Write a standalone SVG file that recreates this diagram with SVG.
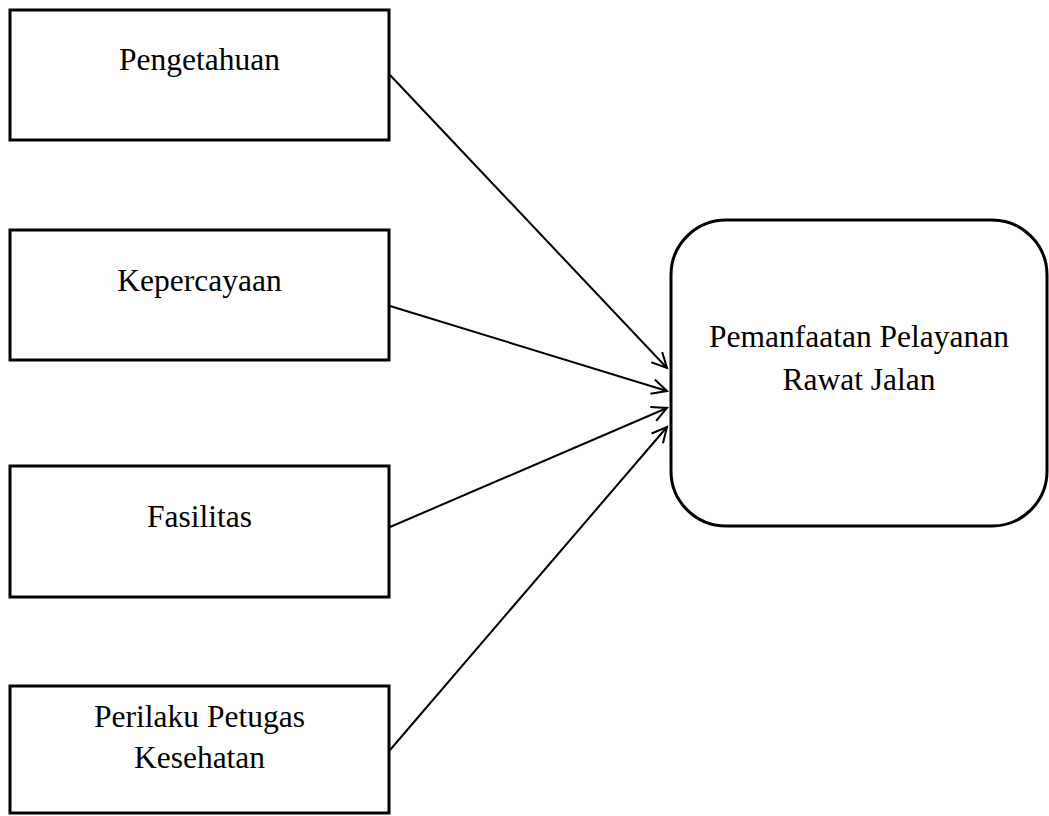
<svg xmlns="http://www.w3.org/2000/svg" width="1049" height="816" viewBox="0 0 1049 816">
<style>
.box{fill:#fff;stroke:#000;stroke-width:3}
.lbl{font-family:"Liberation Serif","Times New Roman",serif;font-size:31.5px;fill:#000;text-anchor:middle}
.conn{stroke:#000;stroke-width:2;fill:none;marker-end:url(#arr)}
</style>
<defs>
<marker id="arr" markerUnits="userSpaceOnUse" markerWidth="24" markerHeight="24" viewBox="-18 -12 24 24" refX="0" refY="0" orient="auto">
<path d="M -15 -7.5 L 0 0 L -15 7.5" fill="none" stroke="#000" stroke-width="2"/>
</marker>
</defs>
<rect width="1049" height="816" fill="#fff"/>
<g id="connectors">
<line class="conn" x1="390" y1="75" x2="667" y2="368"/>
<line class="conn" x1="390" y1="306" x2="667" y2="391"/>
<line class="conn" x1="390" y1="527" x2="667" y2="408"/>
<line class="conn" x1="390" y1="750" x2="667" y2="427"/>
</g>
<g id="pengetahuan">
<rect class="box" x="10" y="10" width="379" height="130"/>
<text class="lbl" x="199.5" y="70">Pengetahuan</text>
</g>
<g id="kepercayaan">
<rect class="box" x="10" y="230" width="379" height="130"/>
<text class="lbl" x="199.5" y="291">Kepercayaan</text>
</g>
<g id="fasilitas">
<rect class="box" x="10" y="466" width="379" height="131"/>
<text class="lbl" x="199.5" y="527">Fasilitas</text>
</g>
<g id="perilaku">
<rect class="box" x="10" y="686" width="379" height="127"/>
<text class="lbl" x="199.5" y="727">Perilaku Petugas</text>
<text class="lbl" x="199.5" y="768">Kesehatan</text>
</g>
<g id="pemanfaatan">
<rect class="box" x="671" y="220" width="376" height="306" rx="55" ry="55"/>
<text class="lbl" x="859" y="347">Pemanfaatan Pelayanan</text>
<text class="lbl" x="859" y="390">Rawat Jalan</text>
</g>
</svg>
